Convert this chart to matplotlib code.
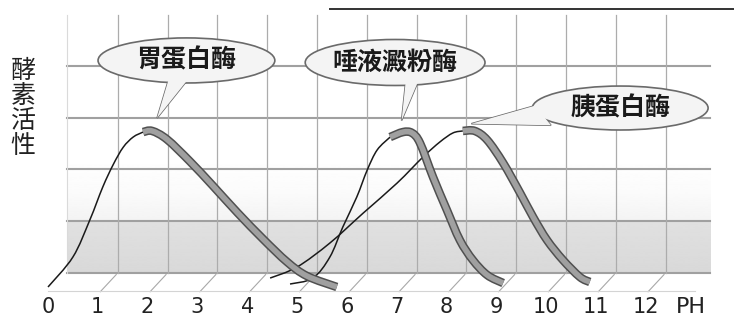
import numpy as np
import matplotlib.pyplot as plt
from matplotlib.patches import Ellipse, Polygon, PathPatch
from matplotlib.path import Path

plt.rcParams['font.family'] = ['Noto Sans CJK TC', 'DejaVu Sans']

# x axis: pH 0..12
ph_ticks = list(range(13))
ph_labels = [str(v) for v in ph_ticks]
x_unit = 'PH'
y_label = '酵素活性'

# curves (pH, relative activity)
pepsin_ph = [0.00, 0.50, 0.84, 1.10, 1.31, 1.51, 1.71, 1.91, 2.09, 2.39, 2.85, 3.31, 3.80, 4.32, 4.80, 5.20, 5.80]
pepsin_act = [0.000, 0.191, 0.427, 0.637, 0.780, 0.890, 0.955, 0.987, 0.994, 0.940, 0.800, 0.645, 0.475, 0.305, 0.160, 0.070, 0.000]

amylase_ph = [4.86, 5.32, 5.66, 5.92, 6.20, 6.41, 6.61, 6.87, 7.13, 7.31, 7.47, 7.73, 8.01, 8.27, 8.53, 8.82, 9.14]
amylase_act = [0.019, 0.057, 0.191, 0.382, 0.573, 0.745, 0.873, 0.955, 0.987, 0.981, 0.917, 0.701, 0.490, 0.299, 0.172, 0.076, 0.025]

trypsin_ph = [4.46, 5.00, 5.66, 6.33, 7.01, 7.53, 7.87, 8.13, 8.33, 8.57, 8.82, 9.14, 9.48, 9.74, 10.02, 10.34, 10.68, 10.88]
trypsin_act = [0.057, 0.127, 0.280, 0.471, 0.662, 0.828, 0.924, 0.981, 0.994, 0.994, 0.936, 0.790, 0.599, 0.446, 0.299, 0.172, 0.064, 0.032]

enzyme_names = ['胃蛋白酶', '唾液澱粉酶', '胰蛋白酶']

# back wall grid (activity levels)
wall_levels = [0, 0.33, 0.66, 0.99, 1.32]

fig = plt.figure(figsize=(7.34, 3.23), dpi=100)
ax = fig.add_axes([0, 0, 1, 1])
ax.set_xlim(-48 / 49.8, 686 / 49.8)
ax.set_ylim(-36 / 157, 287 / 157)
ax.axis('off')

# perspective offset of the back wall
dx, dy = 0.4, 0.089
wall_left, wall_right, wall_top = 0.38, 13.3, 1.73

# gray shading on lower part of wall
h = np.linspace(0, 1, 300)
shade = np.interp(h, [0, 0.44, 0.45, 0.7, 1.0], [0.85, 0.88, 0.955, 0.985, 1.0])
ax.imshow(shade[:, None], extent=[wall_left, wall_right, dy, dy + 0.75], origin='lower',
          cmap='gray', vmin=0, vmax=1, aspect='auto', zorder=0)

for lv in wall_levels:
    ax.plot([wall_left, wall_right], [lv + dy, lv + dy], color='#a0a0a0', lw=1.5, zorder=1)
for k in ph_ticks[1:]:
    ax.plot([k + dx, k + dx], [dy, wall_top], color='#acacac', lw=0.9, zorder=1)
    ax.plot([k + 0.05, k + dx - 0.03], [-0.03, dy - 0.01], color='#a8a8a8', lw=0.8, zorder=1)
ax.plot([wall_left, wall_left], [dy, wall_top], color='#dadada', lw=0.8, zorder=1)
ax.plot([0, 13.0], [-0.025, -0.025], color='#d4d4d4', lw=0.8, zorder=1)

# top border line
ax.plot([(330 - 48) / 49.8, 13.8], [1.77, 1.77], color='#333333', lw=1.4, zorder=1)


def smooth(xs, ys):
    p = np.column_stack([xs, ys])
    n = len(p)
    verts = [p[0]]
    codes = [Path.MOVETO]
    for i in range(n - 1):
        p0 = p[max(i - 1, 0)]
        p3 = p[min(i + 2, n - 1)]
        verts += [p[i] + (p[i + 1] - p0) / 6, p[i + 1] - (p3 - p[i]) / 6, p[i + 1]]
        codes += [Path.CURVE4] * 3
    return Path(verts, codes)


def draw_curve(ph, act, split):
    # thin rising side
    ax.add_patch(PathPatch(smooth(ph[:split + 1], act[:split + 1]), fill=False,
                           edgecolor='#1a1a1a', lw=1.1, zorder=3))
    # ribbon on the falling side
    ribbon = smooth(ph[split:], act[split:])
    ax.add_patch(PathPatch(ribbon, fill=False, edgecolor='#505050', lw=6.2,
                           capstyle='butt', joinstyle='round', zorder=4))
    ax.add_patch(PathPatch(ribbon, fill=False, edgecolor='#a0a0a0', lw=4.0,
                           capstyle='butt', joinstyle='round', zorder=5))


draw_curve(trypsin_ph, trypsin_act, 8)
draw_curve(amylase_ph, amylase_act, 7)
draw_curve(pepsin_ph, pepsin_act, 7)


def bubble(cx, cy, w, hgt, tail, text):
    ax.add_patch(Polygon(tail, closed=True, facecolor='#f4f4f4', edgecolor='#6a6a6a',
                         lw=1.1, zorder=6))
    ax.add_patch(Ellipse((cx, cy), w, hgt, facecolor='#f4f4f4', edgecolor='#6a6a6a',
                         lw=1.2, zorder=7))
    ax.add_patch(Polygon(tail, closed=True, facecolor='#f4f4f4', edgecolor='none', zorder=8))
    ax.text(cx, cy, text, ha='center', va='center', fontsize=18, color='#1a1a1a',
            fontweight='bold', zorder=9)


bubble(2.78, 1.443, 3.55, 0.287,
       [(2.43, 1.33), (2.19, 1.076), (2.83, 1.33)], enzyme_names[0])
bubble(6.97, 1.43, 3.61, 0.293,
       [(7.18, 1.30), (7.10, 1.06), (7.42, 1.30)], enzyme_names[1])
bubble(11.49, 1.14, 3.53, 0.28,
       [(9.78, 1.155), (8.50, 1.04), (10.10, 1.03)], enzyme_names[2])

# axis texts
for k, lab in zip(ph_ticks, ph_labels):
    ax.text(k, -0.13, lab, ha='center', va='center', fontsize=15, color='#222222',
            family=['Liberation Sans Narrow', 'DejaVu Sans'])
ax.text(12.9, -0.13, x_unit, ha='center', va='center', fontsize=16, color='#222222',
        family=['Liberation Sans Narrow', 'DejaVu Sans'])
ax.text(-0.5, 1.14, '\n'.join(y_label), ha='center', va='center', fontsize=18,
        color='#222222', linespacing=0.95)

plt.savefig('out.png', dpi=100, facecolor='white')
